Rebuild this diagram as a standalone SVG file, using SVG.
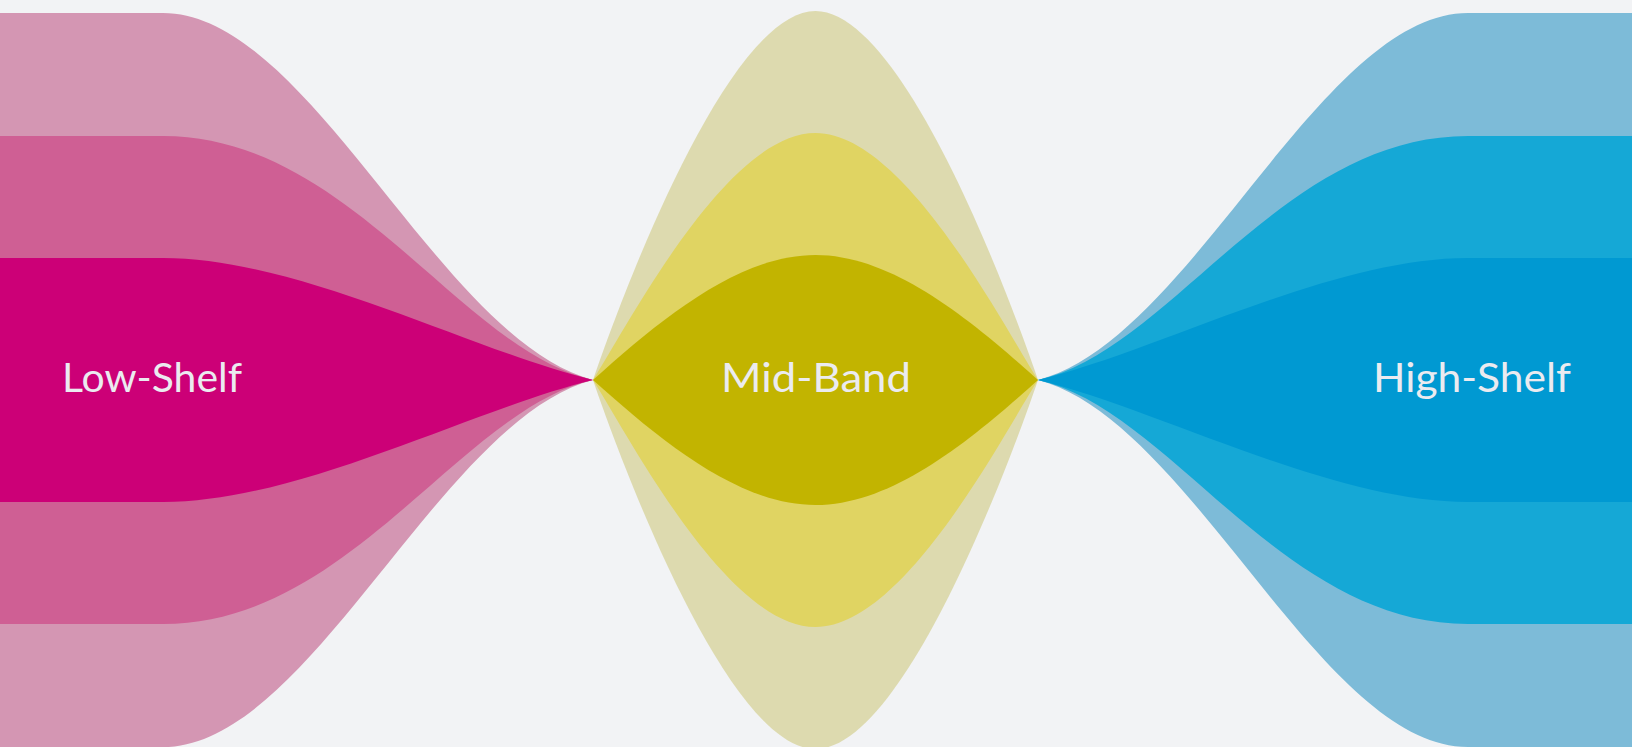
<svg xmlns="http://www.w3.org/2000/svg" width="1632" height="747" viewBox="0 0 1632 747">
<style>
.lbl{font-family:Lato,"Noto Sans","Liberation Sans",sans-serif;font-weight:400;font-size:41px;fill:#EBEBF0;}
</style>
<rect x="0" y="0" width="1632" height="747" fill="#F2F3F5"/>
<g id="low-shelf">
<path fill="#D496B3" d="M0,13 H163 C310,13 440,340 593,380 C440,420 310,747 163,747 H0 Z"/>
<path fill="#CF5F94" d="M0,136 H163 C350,136 460,350 593,380 C460,410 350,624 163,624 H0 Z"/>
<path fill="#CC0077" d="M0,258 H163 C300,258 470,350 593,380 C470,410 300,502 163,502 H0 Z"/>
<text class="lbl" x="62" y="392" textLength="180" lengthAdjust="spacingAndGlyphs">Low-Shelf</text>
</g>
<g id="mid-band">
<path fill="#DDDAAF" d="M593,380 C615,315 725,11 815.5,11 C906,11 1016,315 1038,380 C1016,445 906,749 815.5,749 C725,749 615,445 593,380 Z"/>
<path fill="#E0D462" d="M593,380 C632,318 728,133 815.5,133 C903,133 999,318 1038,380 C999,442 903,627 815.5,627 C728,627 632,442 593,380 Z"/>
<path fill="#C2B400" d="M593,380 C660,320 738,255 815.5,255 C893,255 971,320 1038,380 C971,440 893,505 815.5,505 C738,505 660,440 593,380 Z"/>
<text class="lbl" x="721" y="392" textLength="190" lengthAdjust="spacingAndGlyphs">Mid-Band</text>
</g>
<g id="high-shelf">
<path fill="#7DBBD8" d="M1632,13 H1468 C1321,13 1191,340 1038,380 C1191,420 1321,747 1468,747 H1632 Z"/>
<path fill="#15A8D6" d="M1632,136 H1468 C1281,136 1171,350 1038,380 C1171,410 1281,624 1468,624 H1632 Z"/>
<path fill="#0099D2" d="M1632,258 H1468 C1331,258 1161,350 1038,380 C1161,410 1331,502 1468,502 H1632 Z"/>
<text class="lbl" x="1373" y="392" textLength="198" lengthAdjust="spacingAndGlyphs">High-Shelf</text>
</g>
<g id="connectors"></g>
</svg>
